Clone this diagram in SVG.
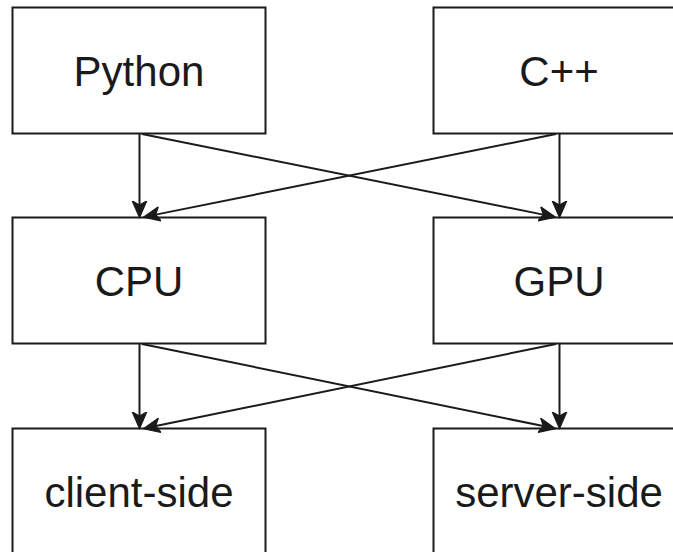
<svg xmlns="http://www.w3.org/2000/svg" width="673" height="552" viewBox="0 0 673 552">
<style>
.box{fill:#ffffff;stroke:#1a1a1a;stroke-width:2}
.lbl{font-family:"Liberation Sans",Arial,Helvetica,sans-serif;font-size:42px;fill:#1a1a1a;text-anchor:middle}
.edge{stroke:#1a1a1a;stroke-width:2;fill:none}
</style>
<defs>
<marker id="arr" markerUnits="userSpaceOnUse" markerWidth="18" markerHeight="18" viewBox="0 -8 17 16" refX="4" refY="0" orient="auto">
<path d="M16,0 L0,-7 L4,0 L0,7 Z" fill="#1a1a1a" stroke="#1a1a1a" stroke-width="1"/>
</marker>
</defs>
<rect width="673" height="552" fill="#ffffff"/>
<g id="python"><rect class="box" x="12.5" y="7.5" width="253" height="126"/><text class="lbl" x="139" y="86">Python</text></g>
<g id="cpp"><rect class="box" x="433.5" y="7.5" width="253" height="126"/><text class="lbl" x="559" y="86">C++</text></g>
<g id="cpu"><rect class="box" x="12.5" y="217.5" width="253" height="126"/><text class="lbl" x="139" y="296">CPU</text></g>
<g id="gpu"><rect class="box" x="433.5" y="217.5" width="253" height="126"/><text class="lbl" x="559" y="296">GPU</text></g>
<g id="client"><rect class="box" x="12.5" y="428.5" width="253" height="126"/><text class="lbl" x="139" y="507">client-side</text></g>
<g id="server"><rect class="box" x="433.5" y="428.5" width="253" height="126"/><text class="lbl" x="559" y="507">server-side</text></g>
<g id="connectors">
<line class="edge" x1="139.5" y1="134" x2="139.5" y2="205" marker-end="url(#arr)"/>
<line class="edge" x1="559.5" y1="134" x2="559.5" y2="205" marker-end="url(#arr)"/>
<line class="edge" x1="142" y1="134" x2="543.24" y2="214.64" marker-end="url(#arr)"/>
<line class="edge" x1="556" y1="134" x2="155.76" y2="214.63" marker-end="url(#arr)"/>
<line class="edge" x1="139.5" y1="344" x2="139.5" y2="416" marker-end="url(#arr)"/>
<line class="edge" x1="559.5" y1="344" x2="559.5" y2="416" marker-end="url(#arr)"/>
<line class="edge" x1="142" y1="344" x2="543.24" y2="426.1" marker-end="url(#arr)"/>
<line class="edge" x1="556" y1="344" x2="155.76" y2="426.1" marker-end="url(#arr)"/>
</g>
</svg>
